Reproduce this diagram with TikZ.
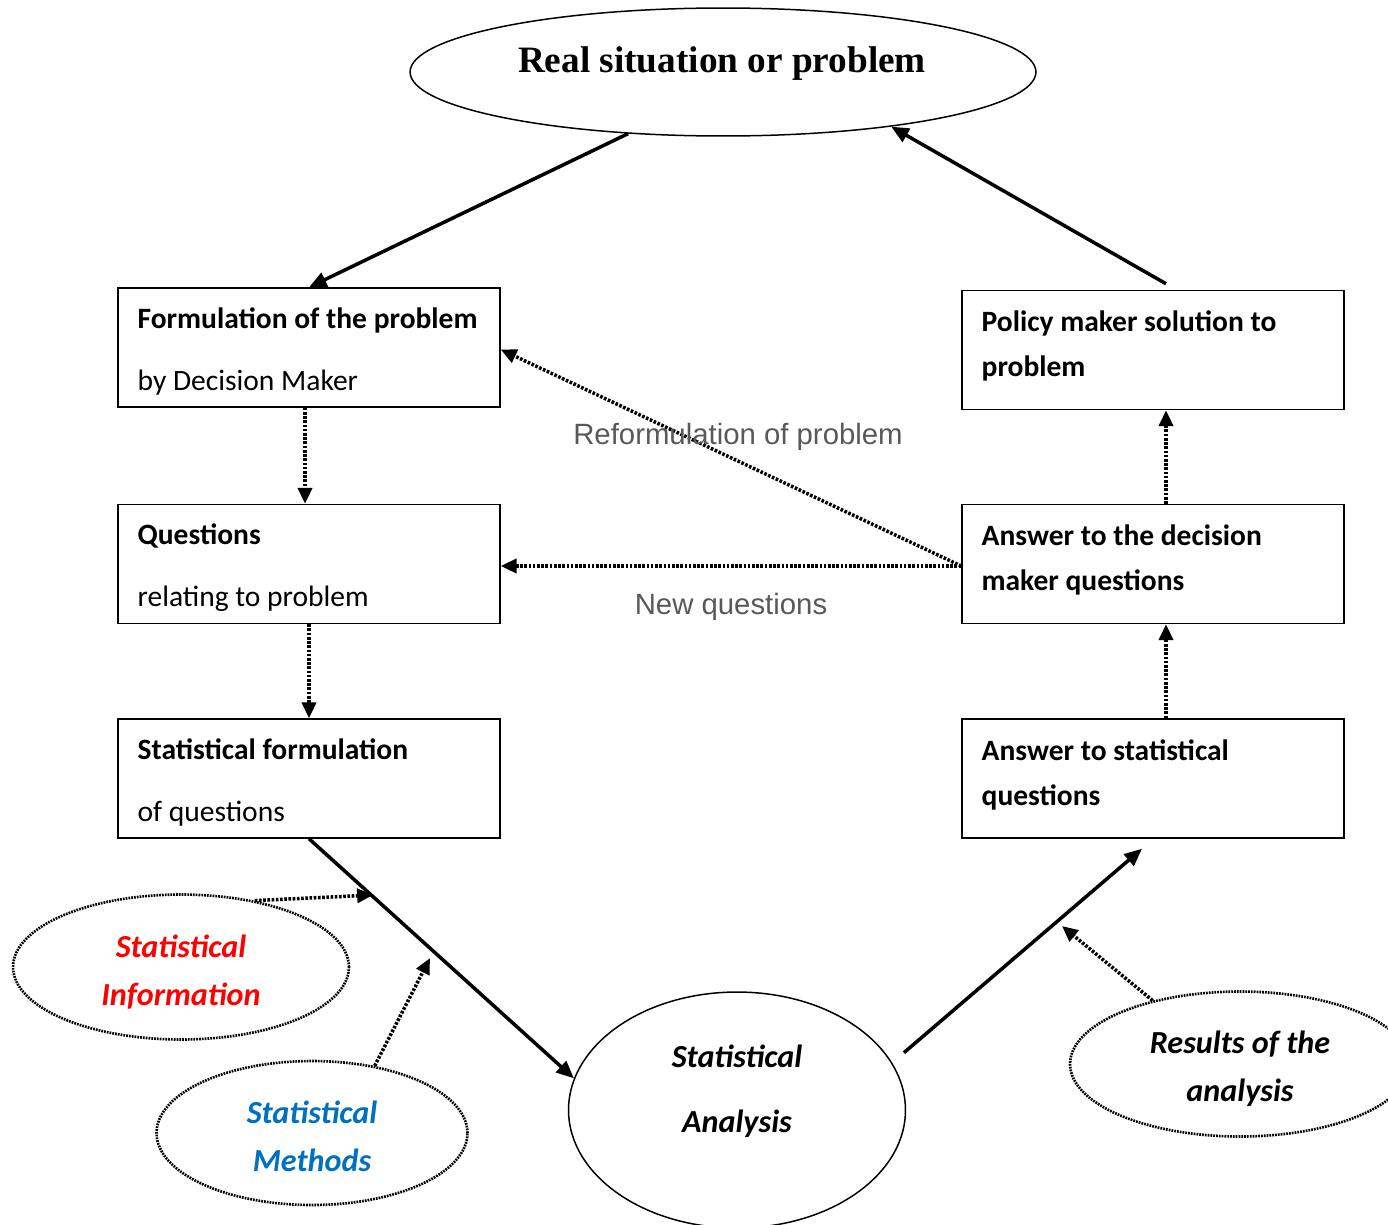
\documentclass[tikz,border=0pt]{standalone}
\usepackage{fontspec}
\setmainfont{Carlito}
\newfontfamily\titlefont{Liberation Serif}
\newfontfamily\notefont{Liberation Sans}
\usetikzlibrary{shapes.geometric,arrows.meta,calc}
\definecolor{methblue}{RGB}{0,112,192}
\definecolor{notegray}{RGB}{89,89,89}

\begin{document}
\begin{tikzpicture}[x=0.02cm,y=-0.02cm,
    box/.style={draw,line width=0.85pt,minimum width=7.64cm,minimum height=2.38cm,inner sep=0pt},
    boxtext/.style={align=left,inner sep=0pt,anchor=north west},
    dotellipse/.style={ellipse,draw,line width=1.5pt,dash pattern=on 1pt off 0.6pt,inner sep=0pt,
        align=center,font=\fontsize{18.3}{27.3}\selectfont\bfseries\itshape},
    solidarrow/.style={line width=2pt,-{Triangle[length=10pt,width=8.5pt]}},
    dotarrow/.style={line width=2pt,dash pattern=on 1.5pt off 0.9pt,-{Triangle[length=9pt,width=8pt]}},
    note/.style={font=\notefont\fontsize{16.7}{20}\selectfont,text=notegray}
  ]
        \useasboundingbox (0,0) rectangle (1388,1224);
        \clip (0,0) rectangle (1388,1224);
        % Top of the cycle
        \node[ellipse,draw,line width=0.85pt,minimum width=12.52cm,minimum height=2.56cm,inner sep=0pt] (top) at (723,72) {};
        \node[font=\titlefont\bfseries\fontsize{21.2}{25}\selectfont] (toptxt) at (722,64) {Real situation or problem};
        % Left column
        \node[box] (form) at (309,347.5) {};
        \node[boxtext,font=\fontsize{16.8}{35.3}\selectfont] (formtxt) at ($(form.north west)+(20,20)$) {\textbf{Formulation of the problem}\\by Decision Maker};
        \node[box] (quest) at (309,564) {};
        \node[boxtext,font=\fontsize{16.8}{35.3}\selectfont] (questtxt) at ($(quest.north west)+(20,20)$) {\textbf{Questions}\\relating to problem};
        \node[box] (stform) at (309,778.5) {};
        \node[boxtext,font=\fontsize{16.8}{35.3}\selectfont] (stformtxt) at ($(stform.north west)+(20,20)$) {\textbf{Statistical formulation}\\of questions};
        % Right column
        \node[box] (policy) at (1153,350) {};
        \node[boxtext,font=\fontsize{16.8}{25.5}\selectfont\bfseries] (policytxt) at ($(policy.north west)+(20,21)$) {Policy maker solution to\\problem};
        \node[box] (answ) at (1153,564) {};
        \node[boxtext,font=\fontsize{16.8}{25.5}\selectfont\bfseries] (answtxt) at ($(answ.north west)+(20,21)$) {Answer to the decision\\maker questions};
        \node[box] (ansst) at (1153,778.5) {};
        \node[boxtext,font=\fontsize{16.8}{25.5}\selectfont\bfseries] (anssttxt) at ($(ansst.north west)+(20,21)$) {Answer to statistical\\questions};
        % Bottom: analysis and its inputs
        \node[ellipse,draw,line width=0.85pt,minimum width=6.74cm,minimum height=4.72cm,inner sep=0pt] (ana) at (737,1110) {};
        \node[align=center,font=\fontsize{18.3}{37}\selectfont\bfseries\itshape] (anatxt) at (737,1091) {Statistical\\Analysis};
        \node[dotellipse,minimum width=6.72cm,minimum height=2.9cm] (info) at (181,967) {};
        \node[align=center,font=\fontsize{18.3}{27.3}\selectfont\bfseries\itshape,text=red] (infotxt) at (181,972) {Statistical\\Information};
        \node[dotellipse,minimum width=6.22cm,minimum height=2.88cm] (meth) at (312,1133) {};
        \node[align=center,font=\fontsize{18.3}{27.3}\selectfont\bfseries\itshape,text=methblue] (methtxt) at (312,1136) {Statistical\\Methods};
        \node[dotellipse,minimum width=6.8cm,minimum height=2.9cm] (res) at (1240,1064) {};
        \node[align=center,font=\fontsize{18.3}{27.3}\selectfont\bfseries\itshape] (restxt) at (1240,1069) {Results of the\\analysis};
        \coordinate (infohit) at (373,895);
        \coordinate (methhit) at (430,958);
        \coordinate (reshit) at (1062,926);
        % Main cycle
        \draw[solidarrow] (top.213) -- (form.north);
        \draw[dotarrow] ($(form.south)+(-4,0)$) -- ($(quest.north)+(-4,0)$);
        \draw[dotarrow] (quest.south) -- (stform.north);
        \draw[solidarrow] (stform.south) -- (ana.169);
        \draw[solidarrow] ($(ana.19)+(15,-5)$) -- ($(ansst.south)+(-11,10)$);
        \draw[dotarrow] ($(ansst.north)+(13,0)$) -- ($(answ.south)+(13,0)$);
        \draw[dotarrow] ($(answ.north)+(13,0)$) -- ($(policy.south)+(13,0)$);
        \draw[solidarrow] ($(policy.north)+(13,-6)$) -- (top.342);
        % Feedback
        \draw[dotarrow] ($(answ.west)+(0,2)$) -- ($(quest.east)+(0,2)$) node[note,midway,yshift=-0.82cm] {New questions};
        \draw[dotarrow] ($(answ.west)+(0,2)$) -- ($(form.east)+(0,2)$) node[note,midway,xshift=0.14cm,yshift=0.42cm] {Reformulation of problem};
        % Inputs and outputs
        \draw[dotarrow] (info.42) -- (infohit);
        \draw[dotarrow] (meth.47) -- (methhit);
        \draw[dotarrow] (res.144) -- (reshit);
    \end{tikzpicture}
\end{document}
